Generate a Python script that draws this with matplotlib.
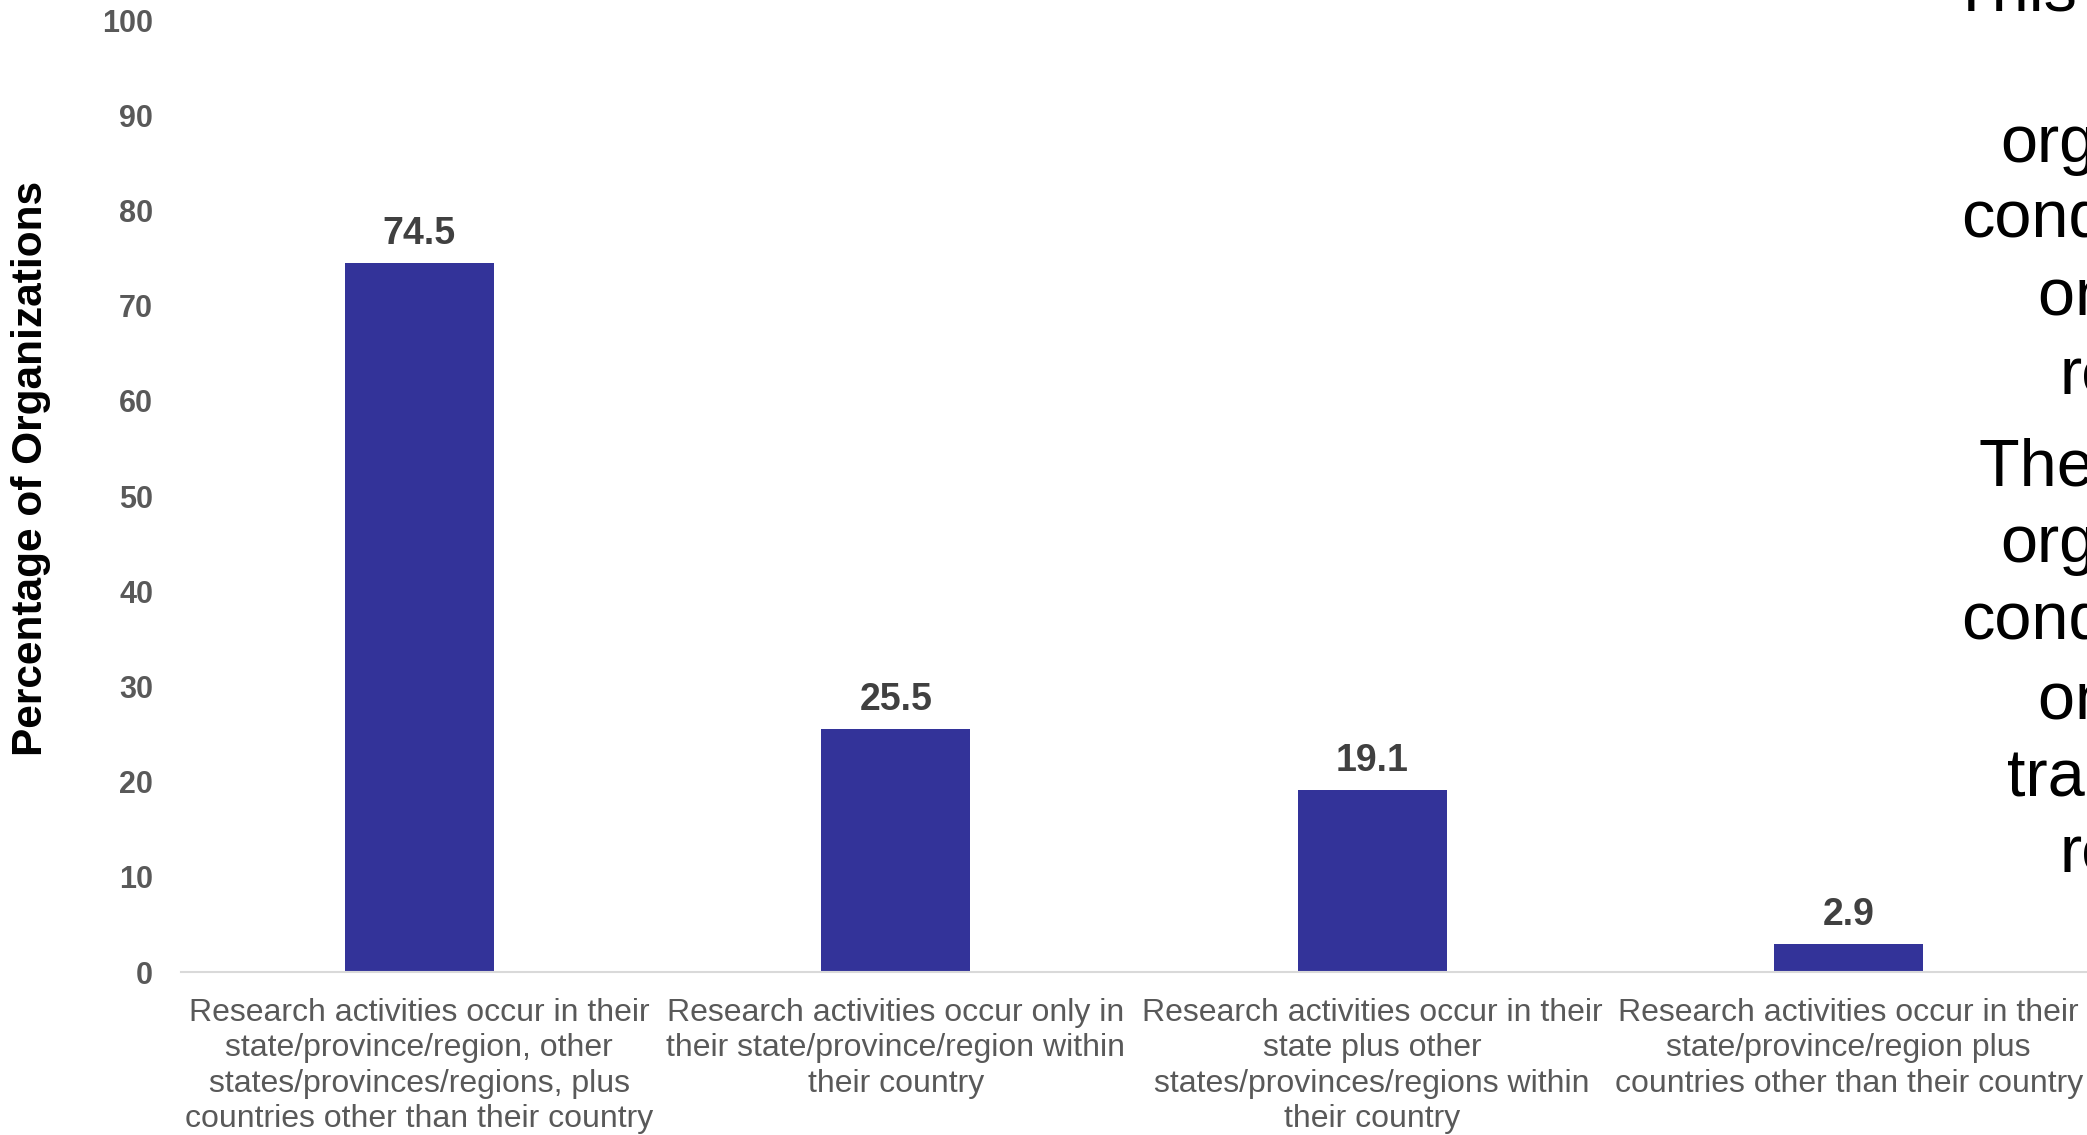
import matplotlib
matplotlib.use("Agg")
import matplotlib.pyplot as plt

categories = [
    "Research activities occur in their\nstate/province/region, other\nstates/provinces/regions, plus\ncountries other than their country",
    "Research activities occur only in\ntheir state/province/region within\ntheir country",
    "Research activities occur in their\nstate plus other\nstates/provinces/regions within\ntheir country",
    "Research activities occur in their\nstate/province/region plus\ncountries other than their country",
]
values = [74.5, 25.5, 19.1, 2.9]
yticks = [0, 10, 20, 30, 40, 50, 60, 70, 80, 90, 100]
side_lines = ["This graph", "organizations", "conducting", "only in their", "research",
              "The percentage", "organizations", "conducting", "only in", "transnational", "research"]

plt.rcParams['font.family'] = ['Liberation Sans', 'DejaVu Sans']

W, H = 2087, 1135
fig = plt.figure(figsize=(W / 100, H / 100), dpi=100)
ax = fig.add_axes([181 / W, (H - 972) / H, (W - 181) / W, (972 - 20) / H])

x = list(range(len(values)))
bars = ax.bar(x, values, width=0.313, color="#333399", zorder=2)
for xi, v in zip(x, values):
    ax.annotate(f"{v}", (xi, v), xytext=(0, 8), textcoords="offset points",
                ha="center", va="bottom", fontsize=27, fontweight="bold", color="#404040")

ax.set_xlim(-0.5, 3.5)
ax.set_ylim(0, 100)
ax.set_yticks(yticks)
ax.set_yticklabels([str(t) for t in yticks], fontsize=22, fontweight="bold", color="#595959")
ax.set_xticks(x)
ax.set_xticklabels(categories, fontsize=23, color="#595959", linespacing=1.22)
ax.tick_params(axis="y", length=0, pad=20)
ax.tick_params(axis="x", length=0, pad=19)
for s in ["top", "right", "left"]:
    ax.spines[s].set_visible(False)
ax.spines["bottom"].set_color("#d9d9d9")
ax.spines["bottom"].set_linewidth(1.5)

fig.text(31 / W, (H - 468) / H, "Percentage of Organizations", rotation=90,
         ha="center", va="center", fontsize=30.5, fontweight="bold", color="black")

# right-side text block (clipped by the figure edge, as in the source)
xs = [1951, 2000, 1961, 2038, 2059, 1979, 2000, 1961, 2038, 2007, 2059]
ys = [11, 162, 237, 315, 393, 486, 562, 639, 719, 795, 872]
for line, xp, yp in zip(side_lines, xs, ys):
    fig.text(xp / W, (H - yp) / H, line, ha="left", va="baseline", fontsize=48, color="black")

fig.savefig("out.png", dpi=100)
